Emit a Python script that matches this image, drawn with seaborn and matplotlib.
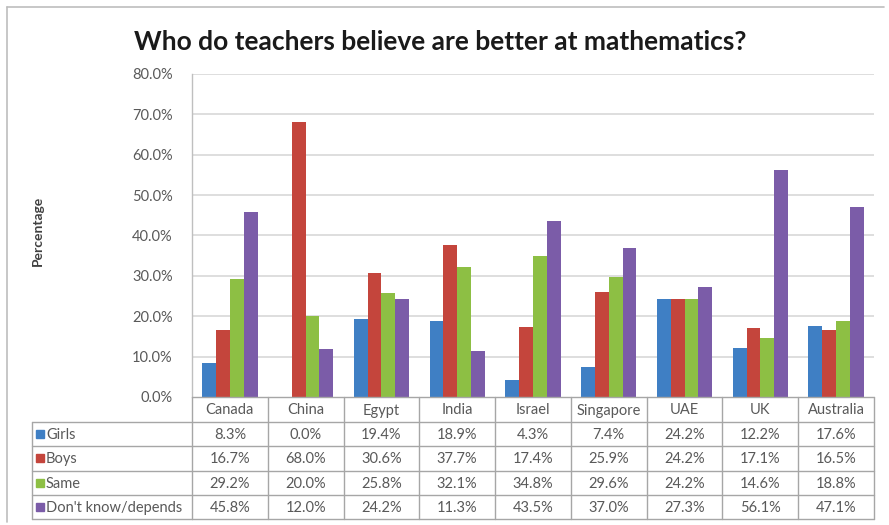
import matplotlib
matplotlib.use("Agg")
import matplotlib.pyplot as plt
from matplotlib.lines import Line2D
from matplotlib.patches import Rectangle
from matplotlib.transforms import blended_transform_factory
import seaborn as sns
import pandas as pd

countries = ["Canada", "China", "Egypt", "India", "Israel", "Singapore", "UAE", "UK", "Australia"]
girls = [8.3, 0.0, 19.4, 18.9, 4.3, 7.4, 24.2, 12.2, 17.6]
boys = [16.7, 68.0, 30.6, 37.7, 17.4, 25.9, 24.2, 17.1, 16.5]
same = [29.2, 20.0, 25.8, 32.1, 34.8, 29.6, 24.2, 14.6, 18.8]
dont_know = [45.8, 12.0, 24.2, 11.3, 43.5, 37.0, 27.3, 56.1, 47.1]
series_names = ["Girls", "Boys", "Same", "Don't know/depends"]
series_values = [girls, boys, same, dont_know]
y_ticks = [0, 10, 20, 30, 40, 50, 60, 70, 80]

colors = ["#3F7FC4", "#C4453C", "#8DBF44", "#7B5CA8"]
grid_c = "#D4D4D4"
text_c = "#595959"
fs = 10.5

sns.set_theme(style="white")
plt.rcParams["font.family"] = ["Lato", "DejaVu Sans"]

rows = []
for name, vals in zip(series_names, series_values):
    for c, v in zip(countries, vals):
        rows.append({"Country": c, "Series": name, "Value": v})
df = pd.DataFrame(rows)

W, H = 889, 525
fig = plt.figure(figsize=(W / 100, H / 100), dpi=100)
fig.patch.set_facecolor("white")

# plot area in pixel terms
px_l, px_r, px_t, px_b = 192, 874, 74, 397
ax = fig.add_axes([px_l / W, 1 - px_b / H, (px_r - px_l) / W, (px_b - px_t) / H])

sns.barplot(data=df, x="Country", y="Value", hue="Series", order=countries,
            hue_order=series_names, palette=colors, width=0.73, gap=0,
            saturation=1, edgecolor="none", linewidth=0, legend=False, ax=ax)

ax.set_xlim(-0.5, len(countries) - 0.5)
ax.set_ylim(0, 80)
ax.set_yticks(y_ticks)
ax.set_yticklabels([f"{t:.1f}%" for t in y_ticks], color=text_c, fontsize=fs)
ax.tick_params(axis="y", length=0, pad=14)
ax.set_xticks([])
ax.set_xlabel("")
ax.set_ylabel("")
for t in y_ticks[1:]:
    ax.axhline(t, color=grid_c, lw=1.1, zorder=0)
for s in ["top", "right", "bottom"]:
    ax.spines[s].set_visible(False)
ax.spines["left"].set_color("#BFBFBF")
ax.spines["left"].set_linewidth(1.0)
ax.set_axisbelow(True)

# overlay in pixel coordinates for the data table, title and frame
ov = fig.add_axes([0, 0, 1, 1], zorder=5)
ov.set_xlim(0, W)
ov.set_ylim(H, 0)
ov.axis("off")
ov.patch.set_alpha(0)

tr = blended_transform_factory(ax.transData, ov.transData)
line_c = "#A6A6A6"

# outer chart frame
ov.add_line(Line2D([7, 7], [7, 522], color="#BDBDBD", lw=1.2))
ov.add_line(Line2D([7, 884], [7, 7], color="#BDBDBD", lw=1.2))

ov.text(440, 42, "Who do teachers believe are better at mathematics?",
        ha="center", va="center", fontsize=19, fontweight="bold", color="#1A1A1A")
ov.text(38, 231, "Percentage", rotation=90, ha="center", va="center",
        fontsize=10, fontweight="bold", color="#404040")

row_edges = [397, 422, 446.25, 470.5, 494.75, 519]
legend_l = 32
n = len(countries)

# horizontal lines
ov.add_line(Line2D([-0.5, n - 0.5], [row_edges[0], row_edges[0]], transform=tr,
                   color=line_c, lw=1.0))
for y in row_edges[1:]:
    ov.add_line(Line2D([legend_l, px_l], [y, y], color=line_c, lw=1.0))
    ov.add_line(Line2D([-0.5, n - 0.5], [y, y], transform=tr, color=line_c, lw=1.0))
# vertical lines
ov.add_line(Line2D([legend_l, legend_l], [row_edges[1], row_edges[-1]], color=line_c, lw=1.0))
for i in range(n + 1):
    xb = i - 0.5
    ov.add_line(Line2D([xb, xb], [row_edges[0], row_edges[-1]], transform=tr,
                       color=line_c, lw=1.0))

# category header
for i, c in enumerate(countries):
    ov.text(i, (row_edges[0] + row_edges[1]) / 2 + 1, c, transform=tr,
            ha="center", va="center", fontsize=fs, color=text_c)

# series rows
for r, (name, vals, col) in enumerate(zip(series_names, series_values, colors)):
    yc = (row_edges[r + 1] + row_edges[r + 2]) / 2 + 1
    ov.add_patch(Rectangle((36, yc - 5), 8, 8, color=col))
    ov.text(46, yc, name, ha="left", va="center", fontsize=fs, color=text_c)
    for i, v in enumerate(vals):
        ov.text(i, yc, f"{v:.1f}%", transform=tr, ha="center", va="center",
                fontsize=fs, color=text_c)

fig.savefig("out.png", dpi=100)
